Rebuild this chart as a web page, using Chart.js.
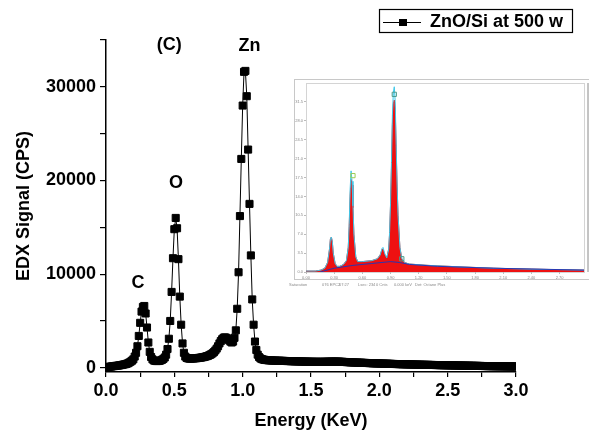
<!DOCTYPE html>
<html>
<head>
<meta charset="utf-8">
<script src="https://cdn.jsdelivr.net/npm/chart.js@4/dist/chart.umd.min.js"></script>
<style>
  html, body { margin: 0; padding: 0; background: #fff; }
  #wrap { position: relative; width: 589px; height: 436px; overflow: hidden; }
  #main { position: absolute; left: 0; top: 0; }
  #inset { position: absolute; left: 286px; top: 78px; }
</style>
</head>
<body>
<div id="wrap">
  <canvas id="main" width="589" height="436"></canvas>
  <canvas id="inset" width="303" height="212"></canvas>
</div>
<script>
// ── Data: EDX spectrum, one reading per 0.01 keV channel ─────
const energyStart = 0;
const energyStep = 0.01;
const signal = [
  50, 80, 100, 120, 140, 160, 180, 200, 220, 240,          // 0.00
  260, 290, 320, 350, 380, 420, 470, 560, 650, 760,        // 0.10
  900, 1200, 1600, 2300, 3400, 4800, 6000, 6500, 6600, 5800, // 0.20
  4300, 2700, 1700, 1150, 900, 780, 740, 720, 720, 740,    // 0.30
  780, 850, 950, 1100, 1400, 2000, 3100, 5000, 8100, 11700, // 0.40
  14800, 16000, 14900, 11600, 7600, 4600, 2600, 1600, 1200, 1050, // 0.50
  1000, 980, 980, 990, 1000, 1010, 1020, 1040, 1060, 1080, // 0.60
  1100, 1130, 1160, 1200, 1250, 1300, 1370, 1450, 1550, 1680, // 0.70
  1850, 2050, 2300, 2600, 2850, 3050, 3200, 3250, 3200, 3100, // 0.80
  2950, 2800, 2700, 2800, 3200, 4000, 6300, 10200, 16200, 22300, // 0.90
  28000, 31600, 31700, 29000, 23300, 17500, 12000, 7300, 4600, 2800, // 1.00
  1900, 1400, 1150, 1000, 930, 880, 850, 830, 815, 800,    // 1.10
  790, 785, 775, 770, 766, 760, 752, 748, 745, 738,        // 1.20
  735, 730, 722, 718, 715, 708, 704, 700, 693, 690,        // 1.30
  686, 680, 677, 670, 668, 664, 658, 655, 652, 647,        // 1.40
  645, 641, 640, 637, 636, 634, 634, 633, 635, 637,        // 1.50
  641, 644, 649, 652, 657, 660, 662, 664, 661, 660,        // 1.60
  655, 650, 642, 636, 625, 618, 607, 600, 593, 584,        // 1.70
  578, 570, 566, 558, 553, 546, 541, 534, 530, 522,        // 1.80
  518, 510, 506, 498, 494, 486, 482, 475, 472, 465,        // 1.90
  462, 455, 452, 445, 442, 435, 432, 425, 422, 415,        // 2.00
  412, 405, 402, 396, 394, 388, 386, 380, 378, 372,        // 2.10
  370, 364, 362, 356, 354, 348, 346, 340, 338, 332,        // 2.20
  330, 324, 322, 317, 316, 311, 310, 305, 304, 299,        // 2.30
  298, 293, 292, 287, 286, 281, 280, 275, 274, 269,        // 2.40
  268, 263, 262, 257, 256, 251, 250, 245, 244, 239,        // 2.50
  238, 233, 232, 227, 226, 221, 220, 215, 214, 209,        // 2.60
  208, 203, 202, 197, 196, 191, 190, 185, 184, 179,        // 2.70
  179, 175, 175, 171, 171, 167, 167, 163, 163, 159,        // 2.80
  159, 155, 155, 151, 151, 147, 147, 143, 143, 139,        // 2.90
  138                                                       // 3.00
];
const seriesName = 'ZnO/Si at 500 w';

const xTicks = [0, 0.25, 0.5, 0.75, 1, 1.25, 1.5, 1.75, 2, 2.25, 2.5, 2.75, 3];
const xLabels = ['0.0', '', '0.5', '', '1.0', '', '1.5', '', '2.0', '', '2.5', '', '3.0'];
const yTicks = [0, 5000, 10000, 15000, 20000, 25000, 30000, 35000];
const yLabels = ['0', '', '10000', '', '20000', '', '30000', ''];

const peakNames = ['C', 'O', '(C)', 'Zn'];
const peakEnergy = [0.234, 0.512, 0.462, 1.05];
const peakLevel = [9100, 19700, 34450, 34350];

// ── Inset (instrument screenshot) data ───────────────────────
const insetEnergy = [0.00, 0.10, 0.16, 0.20, 0.23, 0.25, 0.26, 0.27, 0.28, 0.29, 0.31, 0.33, 0.36, 0.40, 0.43,
  0.45, 0.46, 0.47, 0.48, 0.49, 0.50, 0.51, 0.53, 0.55, 0.60, 0.70, 0.76, 0.79, 0.81, 0.82, 0.84, 0.86,
  0.88, 0.89, 0.90, 0.91, 0.92, 0.93, 0.94, 0.95, 0.96, 0.97, 0.98, 1.00, 1.02, 1.05, 1.10, 1.30, 1.60, 2.00, 2.40, 2.96];
const insetCounts = [0.05, 0.05, 0.1, 0.2, 0.5, 1.2, 1.75, 1.85, 1.6, 1.0, 0.45, 0.3, 0.3, 0.4, 0.6,
  1.3, 2.4, 4.0, 4.9, 4.6, 3.4, 2.0, 0.8, 0.55, 0.55, 0.6, 0.7, 0.9, 1.2, 1.2, 0.9, 0.75,
  1.2, 2.0, 3.5, 5.5, 7.8, 8.9, 9.1, 8.6, 6.5, 4.5, 3.0, 1.3, 0.7, 0.5, 0.42, 0.35, 0.28, 0.2, 0.15, 0.1];
const insetFit = [0.05, 0.05, 0.1, 0.2, 0.5, 1.2, 1.75, 1.85, 1.6, 1.0, 0.45, 0.3, 0.3, 0.4, 0.6,
  1.3, 2.5, 4.4, 5.35, 4.8, 3.5, 2.0, 0.8, 0.55, 0.55, 0.6, 0.7, 0.9, 1.25, 1.3, 0.95, 0.75,
  1.2, 2.1, 3.6, 5.8, 8.3, 9.5, 9.8, 9.0, 6.7, 4.6, 3.0, 1.3, 0.7, 0.5, 0.42, 0.35, 0.28, 0.2, 0.15, 0.1];
const insetBgEnergy = [0.15, 0.30, 0.50, 0.70, 0.90, 1.00, 1.10, 1.40, 2.00, 2.96];
const insetBg = [0, 0.2, 0.35, 0.45, 0.55, 0.5, 0.4, 0.3, 0.2, 0.1];
const insetMarkEnergy = [0.50, 0.94, 1.02];
const insetMarkLevel = [5.1, 9.4, 0.7];
const insetXTicks = [0, 0.3, 0.6, 0.9, 1.2, 1.5, 1.8, 2.1, 2.4, 2.7];
const insetYTicks = [0, 1, 2, 3, 4, 5, 6, 7, 8, 9];
const insetYLabels = ['0.0', '3.5', '7.0', '10.5', '14.0', '17.5', '21.0', '24.5', '28.0', '31.5'];
const insetFooter = ['Saturation', '076 EPC2', '07:27', 'Lsec: 234', '0 Cnts', '0.000 keV', 'Det: Octane Plus'];

const FONT = "'Liberation Sans', Arial, sans-serif";

// ── Main chart ────────────────────────────────────────────────
const annotations = {
  id: 'annotations',
  afterDraw(chart) {
    const { ctx, scales: { x, y } } = chart;
    ctx.save();
    ctx.fillStyle = '#000';
    ctx.font = `bold 18px ${FONT}`;
    ctx.textAlign = 'center';
    ctx.textBaseline = 'middle';
    peakNames.forEach((t, i) => ctx.fillText(t, x.getPixelForValue(peakEnergy[i]), y.getPixelForValue(peakLevel[i])));

    // axis titles
    ctx.fillText('Energy (KeV)', (x.left + x.right) / 2, 421);
    ctx.save();
    ctx.translate(24, (y.top + y.bottom) / 2);
    ctx.rotate(-Math.PI / 2);
    ctx.fillText('EDX Signal (CPS)', 0, 0);
    ctx.restore();

    // legend box
    ctx.lineWidth = 1.2;
    ctx.strokeStyle = '#000';
    ctx.strokeRect(379.5, 9.5, 193, 23);
    ctx.lineWidth = 1;
    ctx.beginPath();
    ctx.moveTo(383, 22.5);
    ctx.lineTo(421, 22.5);
    ctx.stroke();
    ctx.fillRect(399, 19, 8, 7);
    ctx.textAlign = 'left';
    ctx.fillText(seriesName, 430, 22);
    ctx.restore();
  }
};

new Chart(document.getElementById('main'), {
  type: 'line',
  data: {
    datasets: [{
      label: seriesName,
      data: signal.map((v, i) => ({ x: energyStart + i * energyStep, y: v })),
      borderColor: '#000',
      borderWidth: 1,
      pointStyle: 'rect',
      pointRadius: 5,
      pointBackgroundColor: '#000',
      pointBorderColor: '#000',
      pointBorderWidth: 1,
      tension: 0,
    }],
  },
  options: {
    responsive: false, animation: false,
    layout: { padding: { left: 0, right: 73, top: 40, bottom: 0 } },
    plugins: { legend: { display: false }, tooltip: { enabled: false } },
    scales: {
      x: {
        type: 'linear', min: 0, max: 3,
        afterFit: s => { s.height = 64; },
        afterBuildTicks: s => { s.ticks = xTicks.map(v => ({ value: v })); },
        border: { display: true, color: '#000', width: 1.5 },
        grid: { drawOnChartArea: false, drawTicks: true, tickLength: 5, color: '#000', lineWidth: 1.2 },
        ticks: {
          autoSkip: false, maxRotation: 0, padding: 3, color: '#000',
          font: { family: FONT, size: 18, weight: 'bold' },
          callback: v => xLabels[xTicks.indexOf(v)] ?? '',
        },
      },
      y: {
        type: 'linear', min: -450, max: 35000,
        afterFit: s => { s.width = 106; },
        afterBuildTicks: s => { s.ticks = yTicks.map(v => ({ value: v })); },
        border: { display: true, color: '#000', width: 1.5 },
        grid: { drawOnChartArea: false, drawTicks: true, tickLength: 6, color: '#000', lineWidth: 1.2 },
        ticks: {
          autoSkip: false, padding: 4, color: '#000',
          font: { family: FONT, size: 18, weight: 'bold' },
          callback: v => yLabels[yTicks.indexOf(v)] ?? '',
        },
      },
    },
  },
  plugins: [annotations],
});

// ── Inset chart ───────────────────────────────────────────────
const insetFrame = {
  id: 'insetFrame',
  beforeDraw(chart) {
    const { ctx, chartArea: a } = chart;
    ctx.save();
    ctx.fillStyle = '#fff';
    ctx.fillRect(0, 0, chart.width, chart.height);
    ctx.strokeStyle = '#c8c8c8';
    ctx.lineWidth = 1;
    ctx.strokeRect(8.5, 1.5, chart.width, 200);
    ctx.strokeStyle = '#d4d4d4';
    ctx.strokeRect(a.left + 0.5, a.top + 0.5, a.right - a.left, a.bottom - a.top);
    ctx.strokeStyle = '#8a8a8a';
    ctx.beginPath();
    ctx.moveTo(chart.width - 1, a.top);
    ctx.lineTo(chart.width - 1, a.bottom);
    ctx.stroke();
    ctx.restore();
  },
  afterDraw(chart) {
    const { ctx } = chart;
    ctx.save();
    ctx.fillStyle = '#8a8a8a';
    ctx.font = `4px ${FONT}`;
    ctx.textBaseline = 'middle';
    const xs = [3, 36, 53, 72, 90, 108, 129];
    insetFooter.forEach((t, i) => ctx.fillText(t, xs[i], 206.5));
    ctx.restore();
  }
};

new Chart(document.getElementById('inset'), {
  type: 'line',
  data: {
    datasets: [
      {
        data: insetEnergy.map((e, i) => ({ x: e, y: insetCounts[i] })),
        fill: 'origin', backgroundColor: '#ee1111', borderColor: '#ee1111',
        borderWidth: 1, pointRadius: 0, order: 4,
      },
      {
        data: insetEnergy.map((e, i) => ({ x: e, y: insetFit[i] })),
        fill: false, borderColor: '#3ec8ea', borderWidth: 1, pointRadius: 0, order: 3,
      },
      {
        data: insetBgEnergy.map((e, i) => ({ x: e, y: insetBg[i] })),
        fill: false, borderColor: '#2a35b0', borderWidth: 1, pointRadius: 0, order: 2,
      },
      {
        data: insetMarkEnergy.map((e, i) => ({ x: e, y: insetMarkLevel[i] })),
        showLine: false, pointStyle: 'rect', pointRadius: 3,
        pointBackgroundColor: 'rgba(255,255,255,0)',
        pointBorderColor: ['#9ccc55', '#4a9a8a', '#4a9a8a'], pointBorderWidth: 1, order: 1,
      },
    ],
  },
  options: {
    responsive: false, animation: false,
    layout: { padding: { left: 0, right: 0, top: 4, bottom: 0 } },
    plugins: { legend: { display: false }, tooltip: { enabled: false } },
    scales: {
      x: {
        type: 'linear', min: 0, max: 2.96,
        afterFit: s => { s.height = 18; },
        afterBuildTicks: s => { s.ticks = insetXTicks.map(v => ({ value: v })); },
        border: { display: false },
        grid: { drawOnChartArea: false, drawTicks: true, tickLength: 2, color: '#bbb' },
        ticks: {
          autoSkip: false, maxRotation: 0, padding: 1, color: '#888',
          font: { family: FONT, size: 4 },
          callback: v => v.toFixed(2),
        },
      },
      y: {
        type: 'linear', min: 0, max: 10,
        afterFit: s => { s.width = 20; },
        afterBuildTicks: s => { s.ticks = insetYTicks.map(v => ({ value: v })); },
        border: { display: false },
        grid: { drawOnChartArea: false, drawTicks: true, tickLength: 2, color: '#bbb' },
        ticks: {
          autoSkip: false, padding: 1, color: '#888',
          font: { family: FONT, size: 4 },
          callback: v => insetYLabels[insetYTicks.indexOf(v)] ?? '',
        },
      },
    },
  },
  plugins: [insetFrame],
});
</script>
</body>
</html>
